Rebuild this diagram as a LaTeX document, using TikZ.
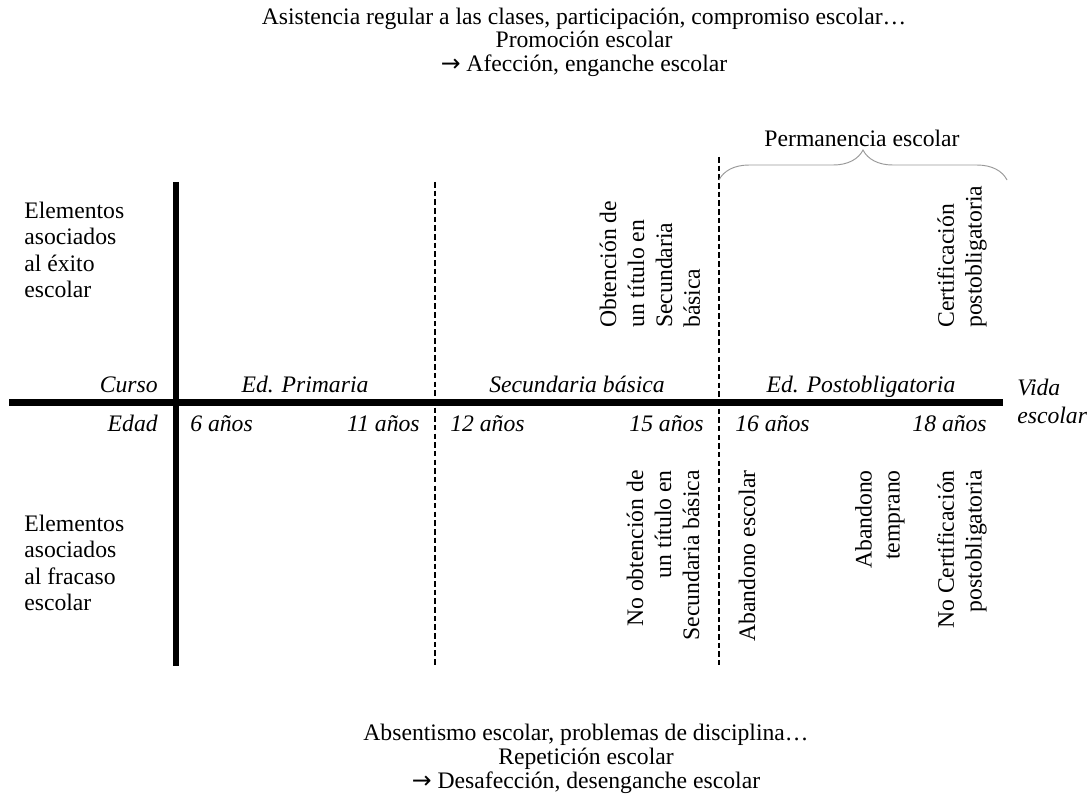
\documentclass[tikz,border=0pt]{standalone}
\usepackage{fontspec}
\setmainfont{Liberation Serif}
\newfontfamily\flecha{DejaVu Sans}
\usetikzlibrary{decorations.pathreplacing}

\begin{document}
\begin{tikzpicture}[x=0.634pt, y=-0.634pt,
    every node/.style={inner sep=0pt},
    nota/.style={align=center, font=\fontsize{15}{15}\selectfont},
    txt/.style={align=left, font=\fontsize{15}{16.8}\selectfont},
    etiq/.style={font=\fontsize{15}{17.7}\selectfont\itshape},
    vtext/.style={rotate=90, align=left, font=\fontsize{15}{17.7}\selectfont},
    axis/.style={line width=4.4pt},
    etapa/.style={line width=1.2pt, dash pattern=on 3.5pt off 2pt},
    llave/.style={draw=gray!80, line width=0.6pt, decorate, decoration={brace, amplitude=19pt}}]
  \useasboundingbox (0,0) rectangle (1090,804);
  % texto superior e inferior
  \node (logro) at (584,42) [nota] {Asistencia regular a las clases, participación, compromiso escolar…\\Promoción escolar\\{\flecha →} Afección, enganche escolar};
  \node (fracaso) at (586,759) [nota] {Absentismo escolar, problemas de disciplina…\\Repetición escolar\\{\flecha →} Desafección, desenganche escolar};
  % ejes
  \draw[axis] (9,402.5) -- (1003,402.5);
  \draw[axis] (176,182) -- (176,666);
  \draw[etapa] (435,182) -- (435,665);
  \draw[etapa] (719,157) -- (719,665);
  % llave
  \coordinate (pi) at (719,180);
  \coordinate (pf) at (1007,180);
  \draw[llave] (pi) -- (pf);
  \node (perm) at (862,138) [txt] {Permanencia escolar};
  % elementos asociados
  \node (exito) at (24,250) [anchor=west, txt] {Elementos\\asociados\\al éxito\\escolar};
  \node (fracasoesc) at (24,563) [anchor=west, txt] {Elementos\\asociados\\al fracaso\\escolar};
  % curso y edad
  \node (curso) at (158,393) [anchor=base east, etiq] {Curso};
  \node (edad) at (158,431) [anchor=base east, etiq] {Edad};
  \node (prim) at (305,393) [anchor=base, etiq] {Ed. Primaria};
  \node (secu) at (577,393) [anchor=base, etiq] {Secundaria básica};
  \node (post) at (861,393) [anchor=base, etiq] {Ed. Postobligatoria};
  \node (e6) at (190,431) [anchor=base west, etiq] {6 años};
  \node (e11) at (420,431) [anchor=base east, etiq] {11 años};
  \node (e12) at (450,431) [anchor=base west, etiq] {12 años};
  \node (e15) at (704,431) [anchor=base east, etiq] {15 años};
  \node (e16) at (735,431) [anchor=base west, etiq] {16 años};
  \node (e18) at (987,431) [anchor=base east, etiq] {18 años};
  \node (vida) at (1017,401) [anchor=west, align=left, etiq] {Vida\\escolar};
  % hitos
  \node (titulo) at (650,328) [vtext, anchor=west] {Obtención de\\un título en\\Secundaria\\básica};
  \node (cert) at (962,328) [vtext, anchor=west] {Certificación\\postobligatoria};
  \node (notitulo) at (663,470) [vtext, anchor=east, align=right] {No obtención de\\un título en\\Secundaria básica};
  \node (abandono) at (747,470) [vtext, anchor=east] {Abandono escolar};
  \node (temprano) at (880,470) [vtext, anchor=east, align=right] {Abandono\\temprano};
  \node (nocert) at (962,470) [vtext, anchor=east, align=right] {No Certificación\\postobligatoria};
\end{tikzpicture}
\end{document}
